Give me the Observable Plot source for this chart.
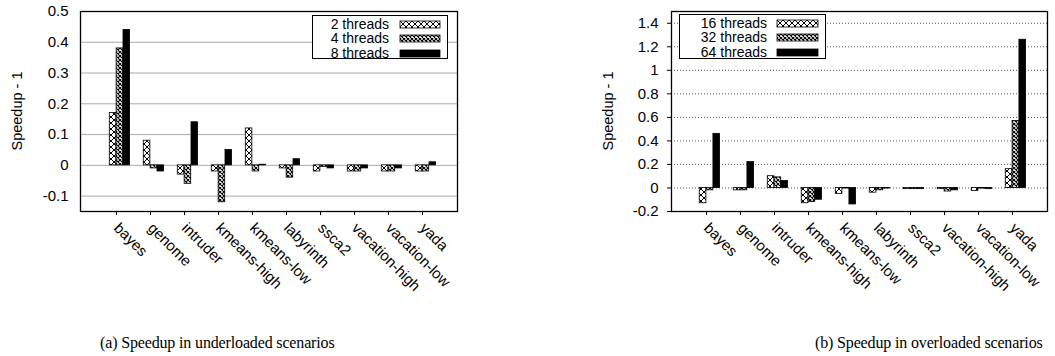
<!DOCTYPE html>
<html><head><meta charset="utf-8">
<script src="https://cdn.jsdelivr.net/npm/d3@7"></script>
<script src="https://cdn.jsdelivr.net/npm/@observablehq/plot@0.6"></script>
<style>
html,body{margin:0;padding:0;background:#fff;}
body{width:1055px;height:356px;position:relative;overflow:hidden;font-family:"Liberation Sans",Arial,sans-serif;color:#000;}
.panel{position:absolute;top:0;}
.ylab{position:absolute;font-size:14.5px;white-space:nowrap;transform:translate(-50%,-50%) rotate(-90deg);}
.caption{position:absolute;font-family:"Liberation Serif",serif;font-size:16px;letter-spacing:-0.15px;white-space:nowrap;line-height:1;}
.legend{position:absolute;background:#fff;border:1px solid #000;box-sizing:border-box;}
.legend .t{position:absolute;font-size:14px;line-height:1;text-align:right;white-space:nowrap;transform:translateY(-50%);}
.legend svg{position:absolute;overflow:visible;}
</style></head><body>
<svg width="0" height="0" style="position:absolute">
  <defs>
    <pattern id="pX" width="6" height="6" patternUnits="userSpaceOnUse">
      <rect width="6" height="6" fill="#fff"/>
      <path d="M0,0L6,6M6,0L0,6M-1,5L1,7M5,-1L7,1" stroke="#000" stroke-width="1"/>
    </pattern>
    <pattern id="pD" width="4" height="4" patternUnits="userSpaceOnUse">
      <rect width="4" height="4" fill="#fff"/>
      <path d="M0,0L4,4M4,0L0,4" stroke="#000" stroke-width="1.1"/>
    </pattern>
  </defs>
</svg>
<div id="a" class="panel" style="left:0"></div>
<div id="b" class="panel" style="left:530px"></div>
<div class="ylab" style="left:16.5px;top:111px">Speedup - 1</div>
<div class="ylab" style="left:607.5px;top:111px">Speedup - 1</div>
<div class="caption" style="left:100px;top:335px">(a) Speedup in underloaded scenarios</div>
<div class="caption" style="left:815px;top:335px">(b) Speedup in overloaded scenarios</div>
<script>
const categories = ["bayes","genome","intruder","kmeans-high","kmeans-low","labyrinth","ssca2","vacation-high","vacation-low","yada"];

const underSeries = ["2 threads","4 threads","8 threads"];
const under2 = [0.17, 0.08, -0.03, -0.02, 0.12, -0.01, -0.02, -0.02, -0.02, -0.02];
const under4 = [0.38, -0.01, -0.06, -0.12, -0.02, -0.04, -0.005, -0.02, -0.02, -0.02];
const under8 = [0.44, -0.02, 0.14, 0.05, 0.002, 0.02, -0.01, -0.01, -0.01, 0.01];
const underTicks = [-0.1, 0, 0.1, 0.2, 0.3, 0.4, 0.5];

const overSeries = ["16 threads","32 threads","64 threads"];
const over16 = [-0.13, -0.02, 0.10, -0.13, -0.05, -0.04, -0.01, -0.01, -0.025, 0.16];
const over32 = [-0.02, -0.02, 0.09, -0.12, -0.005, -0.02, -0.01, -0.03, -0.005, 0.57];
const over64 = [0.46, 0.22, 0.06, -0.10, -0.14, -0.005, -0.01, -0.02, -0.01, 1.26];
const overTicks = [-0.2, 0, 0.2, 0.4, 0.6, 0.8, 1, 1.2, 1.4];

const fills = ["url(#pX)", "url(#pD)", "#000"];
const fmt = d => String(+d.toFixed(1));

function chart({width, marginLeft, marginRight, series, values, yDomain, yTicks, dotted, yTickSize, yTickPadding}) {
  const height = 300, marginTop = 11, marginBottom = 89;
  const step = (width - marginLeft - marginRight) / (categories.length + 1);
  const marks = [
    Plot.gridY(yTicks, dotted
      ? {stroke: "#555", strokeOpacity: 1, strokeDasharray: "1,2"}
      : {stroke: "#aaa", strokeOpacity: 1})
  ];
  values.forEach((vals, s) => {
    const data = categories.map((c, i) => ({cat: c, value: vals[i], series: series[s]}));
    marks.push(Plot.barY(data, {
      x: "cat", y: "value", fill: fills[s], stroke: "#000", strokeWidth: 0.8,
      insetLeft: (0.3 + 0.2 * s) * step, insetRight: (0.5 - 0.2 * s) * step
    }));
  });
  marks.push(Plot.frame({stroke: "#000", strokeWidth: 1.3}));
  marks.push(Plot.axisY(yTicks, {tickFormat: fmt, tickSize: yTickSize, tickPadding: yTickPadding, fontSize: 15, label: null}));
  marks.push(Plot.axisX({tickRotate: 45, tickSize: 4, tickPadding: 10, fontSize: 15, label: null}));
  return Plot.plot({
    width, height, marginTop, marginBottom, marginLeft, marginRight,
    style: {fontFamily: "Liberation Sans, Arial, sans-serif", fontSize: "15px", color: "#000", background: "transparent", overflow: "visible"},
    x: {type: "band", domain: categories, paddingInner: 0, paddingOuter: 0.5},
    y: {domain: yDomain},
    marks
  });
}

function legend(container, {left, top, width, height, textRight, swLeft, swWidth, series}) {
  const box = document.createElement("div");
  box.className = "legend";
  Object.assign(box.style, {left: left + "px", top: top + "px", width: width + "px", height: height + "px"});
  const rowsY = [7.5, 21.5, 36.5];
  series.forEach((name, s) => {
    const t = document.createElement("div");
    t.className = "t";
    t.textContent = name;
    Object.assign(t.style, {right: (width - textRight) + "px", top: rowsY[s] + "px"});
    box.appendChild(t);
    const sw = document.createElementNS("http://www.w3.org/2000/svg", "svg");
    sw.setAttribute("width", swWidth); sw.setAttribute("height", 7);
    sw.style.left = swLeft + "px"; sw.style.top = (rowsY[s] - 2.5) + "px";
    const r = document.createElementNS("http://www.w3.org/2000/svg", "rect");
    r.setAttribute("width", swWidth); r.setAttribute("height", 7);
    r.setAttribute("fill", fills[s]); r.setAttribute("stroke", "#000"); r.setAttribute("stroke-width", "0.8");
    sw.appendChild(r);
    box.appendChild(sw);
  });
  container.appendChild(box);
}

document.getElementById("a").appendChild(chart({
  width: 530, marginLeft: 80, marginRight: 73,
  series: underSeries, values: [under2, under4, under8],
  yDomain: [-0.15, 0.5], yTicks: underTicks, dotted: false, yTickSize: 0, yTickPadding: 12
}));
document.getElementById("b").appendChild(chart({
  width: 525, marginLeft: 141, marginRight: 8,
  series: overSeries, values: [over16, over32, over64],
  yDomain: [-0.2, 1.5], yTicks: overTicks, dotted: true, yTickSize: 4, yTickPadding: 9
}));

legend(document.body, {left: 312, top: 15, width: 136, height: 44, textRight: 78, swLeft: 87, swWidth: 40, series: underSeries});
legend(document.body, {left: 679, top: 14, width: 147, height: 45, textRight: 89, swLeft: 97, swWidth: 41, series: overSeries});
</script>
</body></html>
